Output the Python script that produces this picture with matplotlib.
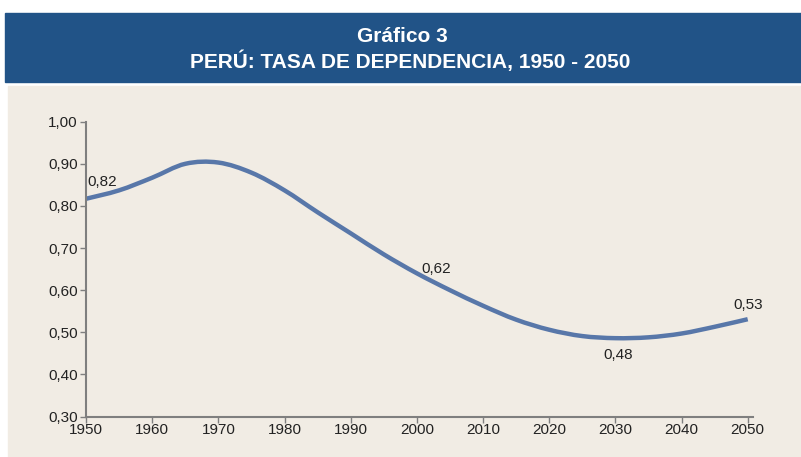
import matplotlib.pyplot as plt
from matplotlib.patches import Rectangle, PathPatch
from matplotlib.path import Path
from matplotlib.ticker import FuncFormatter

# Tasa de dependencia, Peru
years = [1950, 1955, 1960, 1965, 1970, 1975, 1980, 1985, 1990, 1995, 2000,
         2005, 2010, 2015, 2020, 2025, 2030, 2035, 2040, 2045, 2050]
tasa = [0.817, 0.837, 0.867, 0.900, 0.903, 0.879, 0.837, 0.785, 0.735, 0.685, 0.640,
        0.600, 0.563, 0.530, 0.506, 0.491, 0.486, 0.488, 0.497, 0.513, 0.531]

# etiquetas de datos
lbl_years = [1950, 2000, 2030, 2050]
lbl_text = ['0,82', '0,62', '0,48', '0,53']

plt.rcParams['font.family'] = ['Liberation Sans', 'DejaVu Sans']


def smooth_path(xs, ys):
    # linea suavizada tipo Excel (bezier con tangentes catmull-rom)
    verts = [(xs[0], ys[0])]
    codes = [Path.MOVETO]
    n = len(xs)
    for i in range(n - 1):
        x0, y0 = (xs[i - 1], ys[i - 1]) if i > 0 else (xs[i], ys[i])
        x1, y1 = xs[i], ys[i]
        x2, y2 = xs[i + 1], ys[i + 1]
        x3, y3 = (xs[i + 2], ys[i + 2]) if i + 2 < n else (x2, y2)
        verts += [(x1 + (x2 - x0) / 6, y1 + (y2 - y0) / 6),
                  (x2 - (x3 - x1) / 6, y2 - (y3 - y1) / 6),
                  (x2, y2)]
        codes += [Path.CURVE4] * 3
    return Path(verts, codes)


W, H = 801, 457
fig = plt.figure(figsize=(W / 100, H / 100), dpi=100)
fig.patch.set_facecolor('white')

# banda azul del titulo y fondo beige
fig.add_artist(Rectangle((5 / W, 1 - 82 / H), 796 / W, 69 / H,
                         transform=fig.transFigure, color='#215387', zorder=0))
fig.add_artist(Rectangle((8 / W, 0), 793 / W, 1 - 86 / H,
                         transform=fig.transFigure, color='#F1ECE4', zorder=0))

fig.text(402 / W, 1 - 37 / H, 'Gráfico 3', color='white', fontsize=15,
         fontweight='bold', ha='center', va='center')
fig.text(410 / W, 1 - 61 / H, 'PERÚ: TASA DE DEPENDENCIA, 1950 - 2050', color='white',
         fontsize=15, fontweight='bold', ha='center', va='center')

left, right, top, bottom = 86, 753, 121.7, 416.5
ax = fig.add_axes([left / W, 1 - bottom / H, (right - left) / W, (bottom - top) / H])
ax.set_facecolor('none')

ax.add_patch(PathPatch(smooth_path(years, tasa), facecolor='none',
                       edgecolor='#5877A9', linewidth=3.2, capstyle='butt'))

ax.set_xlim(1950, 2050.8)
ax.set_ylim(0.3, 1.0)
ax.set_xticks(range(1950, 2051, 10))
ax.set_yticks([0.3, 0.4, 0.5, 0.6, 0.7, 0.8, 0.9, 1.0])
ax.yaxis.set_major_formatter(FuncFormatter(lambda v, p: f'{v:.2f}'.replace('.', ',')))

for s in ['top', 'right']:
    ax.spines[s].set_visible(False)
for s in ['left', 'bottom']:
    ax.spines[s].set_color('#7f7f7f')
    ax.spines[s].set_linewidth(1.5)
ax.tick_params(axis='both', colors='#7f7f7f', labelcolor='#222222', labelsize=11,
               length=4, width=1)
ax.tick_params(axis='x', pad=1)
ax.tick_params(axis='y', pad=2)

for yr, txt in zip(lbl_years, lbl_text):
    val = tasa[years.index(yr)]
    if yr == 1950:
        ax.annotate(txt, (yr, val), xytext=(1, 7), textcoords='offset points',
                    ha='left', va='bottom', fontsize=11, color='#222222')
    elif yr == 2030:
        ax.annotate(txt, (yr, val), xytext=(2, -7), textcoords='offset points',
                    ha='center', va='top', fontsize=11, color='#222222')
    elif yr == 2050:
        ax.annotate(txt, (yr, val), xytext=(0, 5), textcoords='offset points',
                    ha='center', va='bottom', fontsize=11, color='#222222')
    else:
        ax.annotate(txt, (yr, val), xytext=(3, -2), textcoords='offset points',
                    ha='left', va='bottom', fontsize=11, color='#222222')

fig.savefig('out.png', dpi=100)
